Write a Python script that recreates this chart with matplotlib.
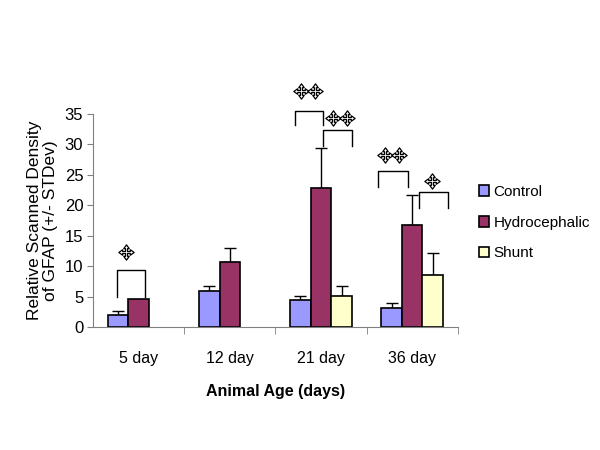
import numpy as np
import matplotlib
matplotlib.use("Agg")
import matplotlib.pyplot as plt
from matplotlib.path import Path

plt.rcParams["font.family"] = ["Liberation Sans", "DejaVu Sans"]

ages = ["5 day", "12 day", "21 day", "36 day"]
series = ["Control", "Hydrocephalic", "Shunt"]
control = [2.0, 5.9, 4.4, 3.2]
control_sd = [0.7, 0.9, 0.7, 0.7]
hydro = [4.6, 10.6, 22.9, 16.8]
hydro_sd = [0.0, 2.4, 6.5, 4.9]
shunt = [np.nan, np.nan, 5.1, 8.6]
shunt_sd = [np.nan, np.nan, 1.7, 3.6]
colors = ["#9999FF", "#993366", "#FFFFCC"]

# significance brackets: x0, x1, top, leg bottom, label x, label y, number of marks
brackets = [
    (-0.24, 0.07, 9.4, 4.9, -0.14, 12.4, 1),
    (1.71, 2.02, 35.5, 33.2, 1.86, 38.8, 2),
    (2.02, 2.34, 32.3, 29.7, 2.21, 34.3, 2),
    (2.62, 2.95, 25.7, 23.0, 2.78, 28.2, 2),
    (3.07, 3.39, 22.2, 19.5, 3.22, 24.0, 1),
]

# four-arrow cross marker shape
a, b, d = 0.13, 0.36, 0.5
arm = [(a, a), (d, a), (d, b), (1, 0), (d, -b), (d, -a)]
verts = []
for k in range(4):
    c, s = np.cos(-k * np.pi / 2), np.sin(-k * np.pi / 2)
    verts += [(px * c - py * s, px * s + py * c) for px, py in arm]
verts.append(verts[0])
cross = Path(verts, [Path.MOVETO] + [Path.LINETO] * (len(verts) - 2) + [Path.CLOSEPOLY])

fig = plt.figure(figsize=(6, 4.5), dpi=100)
ax = fig.add_axes([0.155, 0.2733, 0.608, 0.4734])

x = np.arange(len(ages))
w = 0.225
vals = [control, hydro, shunt]
sds = [control_sd, hydro_sd, shunt_sd]
for i, (v, s) in enumerate(zip(vals, sds)):
    v = np.array(v)
    s = np.array(s)
    pos = x + (i - 1) * w
    ax.bar(pos, v, w, color=colors[i], edgecolor="black", linewidth=1.2,
           label=series[i], zorder=2)
    ok = ~np.isnan(v) & (s > 0)
    ax.errorbar(pos[ok], v[ok], yerr=[np.zeros(ok.sum()), s[ok]], fmt="none",
                ecolor="black", elinewidth=1, capsize=4, capthick=1, zorder=1)

for x0, x1, top, bot, lx, ly, n in brackets:
    ax.plot([x0, x0, x1, x1], [bot, top, top, bot], color="black", lw=1,
            clip_on=False, solid_joinstyle="round")
    mx = lx + (np.arange(n) - (n - 1) / 2) * 0.155
    ax.plot(mx, [ly] * n, linestyle="none", marker=cross, markersize=11,
            markerfacecolor="white", markeredgecolor="black",
            markeredgewidth=0.9, clip_on=False, zorder=3)

ax.set_xlim(-0.5, 3.5)
ax.set_ylim(0, 35)
ax.set_yticks(range(0, 36, 5))
ax.set_xticks(x)
ax.set_xticklabels(ages)
ax.set_xticks(np.arange(0.5, 4, 1), minor=True)
ax.tick_params(axis="x", which="major", length=0, pad=17, labelsize=11.5)
ax.tick_params(axis="x", which="minor", length=5, color="#808080")
ax.tick_params(axis="y", length=4, color="#808080", labelsize=12, pad=3)
for sp in ["top", "right"]:
    ax.spines[sp].set_visible(False)
for sp in ["left", "bottom"]:
    ax.spines[sp].set_color("#808080")

ax.set_ylabel("Relative Scanned Density\nof GFAP (+/- STDev)", fontsize=12.5,
              labelpad=5, linespacing=1.05)
ax.set_xlabel("Animal Age (days)", fontsize=11.5, fontweight="bold", labelpad=13)

fig.legend(loc="upper left", bbox_to_anchor=(0.775, 0.62), frameon=False,
           fontsize=11, handlelength=0.7, handleheight=0.7, handletextpad=0.25,
           labelspacing=1.1)

fig.savefig("out.png", dpi=100)
